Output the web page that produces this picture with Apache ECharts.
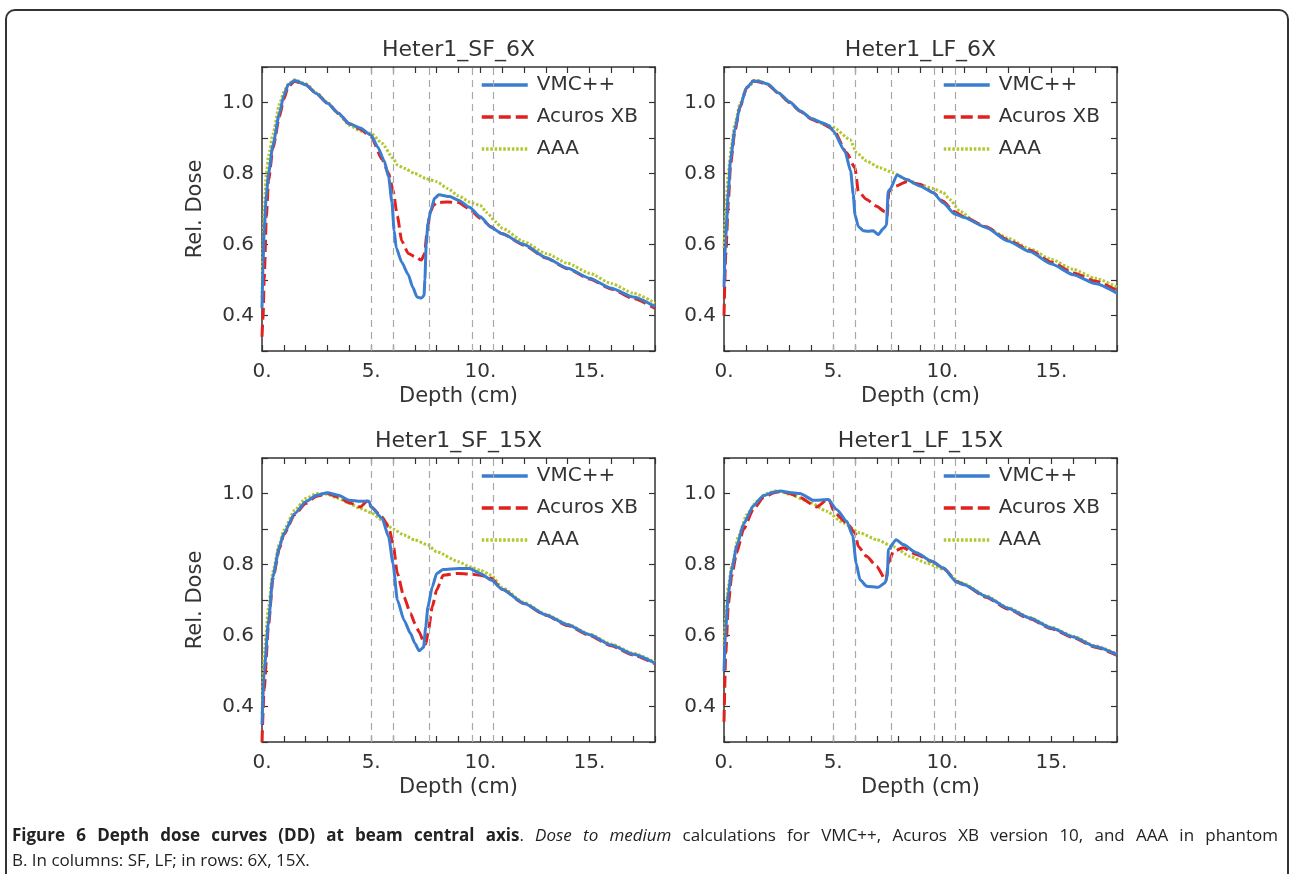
<!DOCTYPE html>
<html>
<head>
<meta charset="utf-8">
<title>Depth dose curves</title>
<script src="https://cdn.jsdelivr.net/npm/echarts@6/dist/echarts.min.js"></script>
<style>
  html, body { margin: 0; padding: 0; background: #fff; }
  #chart { position: absolute; left: 0; top: 0; width: 1290px; height: 874px; }
  #frame { position: absolute; left: 5px; top: 9px; width: 1280px; height: 900px;
           border: 2px solid #333; border-radius: 10px; pointer-events: none; }
  #caption { position: absolute; left: 12px; top: 822px; width: 1266px; color: #222;
             font-family: "Open Sans", sans-serif; font-size: 17px; line-height: 25px; }
  #caption .l1 { text-align: justify; text-align-last: justify; white-space: nowrap; }
</style>
</head>
<body>
<div id="chart"></div>
<div id="frame"></div>
<div id="caption">
  <div class="l1"><b>Figure 6 Depth dose curves (DD) at beam central axis</b>. <i>Dose to medium</i> calculations for VMC++, Acuros XB version 10, and AAA in phantom</div>
  <div>B. In columns: SF, LF; in rows: 6X, 15X.</div>
</div>
<script>
// panel titles, legend names, labelled ticks, interface depths (cm)
const panelTitles = ['Heter1_SF_6X', 'Heter1_LF_6X', 'Heter1_SF_15X', 'Heter1_LF_15X'];
const seriesNames = ['VMC++', 'Acuros XB', 'AAA'];
const xTickLabels = [0, 5, 10, 15];
const yTickLabels = [0.4, 0.6, 0.8, 1.0];
const depthMarks = [5.0, 6.0, 7.65, 9.62, 10.6];

// Heter1_SF_6X  [depth, rel. dose]
const sf6Vmc = [[0,0.42],[0.05,0.55],[0.1,0.64],[0.2,0.74],[0.3,0.8],[0.5,0.88],[0.8,0.97],[1.0,1.02],[1.2,1.05],[1.5,1.062],[2,1.05],[2.5,1.025],[3,0.998],[3.5,0.97],[4,0.94],[4.5,0.928],[5,0.908],[5.3,0.875],[5.6,0.835],[5.8,0.79],[5.95,0.72],[6.05,0.64],[6.15,0.59],[6.4,0.55],[6.7,0.515],[6.9,0.48],[7.1,0.452],[7.3,0.449],[7.42,0.456],[7.46,0.5],[7.52,0.6],[7.6,0.66],[7.75,0.7],[7.9,0.73],[8.1,0.74],[8.6,0.735],[9,0.725],[9.5,0.705],[10,0.678],[10.5,0.648],[11,0.63],[12,0.6],[13,0.563],[14,0.533],[15,0.505],[16,0.477],[17,0.452],[18,0.425]];
const sf6Axb = [[0,0.34],[0.05,0.4],[0.1,0.5],[0.2,0.68],[0.3,0.78],[0.5,0.87],[0.8,0.96],[1.0,1.01],[1.2,1.045],[1.5,1.06],[2,1.05],[2.5,1.025],[3,0.998],[3.5,0.97],[4,0.94],[4.5,0.925],[5,0.903],[5.5,0.84],[5.8,0.8],[6.0,0.753],[6.2,0.68],[6.4,0.61],[6.7,0.575],[7.0,0.566],[7.3,0.556],[7.45,0.575],[7.55,0.63],[7.7,0.69],[7.85,0.71],[8.0,0.718],[8.5,0.72],[9,0.718],[9.5,0.7],[10,0.674],[10.5,0.65],[11,0.63],[12,0.598],[13,0.562],[14,0.532],[15,0.503],[16,0.475],[17,0.448],[18,0.42]];
const sf6Aaa = [[0,0.45],[0.05,0.6],[0.1,0.7],[0.2,0.8],[0.3,0.85],[0.5,0.91],[0.8,0.995],[1.0,1.03],[1.2,1.052],[1.5,1.064],[2,1.053],[2.5,1.027],[3,1.0],[3.5,0.968],[4,0.936],[4.5,0.92],[5,0.913],[5.5,0.885],[6.0,0.843],[6.2,0.824],[6.5,0.815],[7,0.8],[7.5,0.786],[7.7,0.782],[8,0.777],[8.5,0.758],[9,0.737],[9.5,0.72],[10,0.71],[10.3,0.69],[10.7,0.664],[11,0.646],[12,0.608],[13,0.575],[14,0.547],[15,0.519],[16,0.49],[17,0.463],[18,0.435]];

// Heter1_LF_6X
const lf6Vmc = [[0,0.48],[0.08,0.62],[0.2,0.75],[0.3,0.84],[0.5,0.925],[0.73,0.988],[1.04,1.042],[1.34,1.06],[1.6,1.06],[2,1.052],[2.5,1.027],[3,1.002],[3.5,0.976],[4,0.955],[4.5,0.943],[4.8,0.935],[5,0.92],[5.54,0.863],[5.8,0.807],[5.92,0.741],[6.0,0.684],[6.15,0.651],[6.38,0.639],[6.6,0.637],[6.83,0.639],[7.06,0.628],[7.3,0.645],[7.44,0.654],[7.52,0.75],[7.6,0.755],[7.93,0.796],[8.36,0.783],[8.97,0.765],[9.58,0.746],[10.04,0.717],[10.57,0.686],[11,0.676],[12,0.648],[13,0.61],[14,0.58],[15,0.545],[16,0.515],[17,0.49],[18,0.463]];
const lf6Axb = [[0,0.40],[0.08,0.57],[0.2,0.72],[0.3,0.826],[0.5,0.92],[0.73,0.986],[1.04,1.042],[1.34,1.061],[1.6,1.058],[2,1.05],[2.5,1.026],[3,1.0],[3.5,0.975],[4,0.953],[4.5,0.94],[5,0.925],[5.61,0.859],[6.0,0.816],[6.15,0.75],[6.53,0.727],[6.99,0.708],[7.37,0.692],[7.47,0.68],[7.55,0.75],[7.9,0.765],[8.36,0.777],[8.97,0.77],[9.58,0.746],[10.04,0.722],[10.5,0.694],[11,0.678],[12,0.65],[13,0.613],[14,0.584],[15,0.55],[16,0.52],[17,0.497],[18,0.47]];
const lf6Aaa = [[0,0.59],[0.08,0.70],[0.2,0.807],[0.35,0.882],[0.5,0.94],[0.73,0.995],[1.04,1.042],[1.5,1.063],[2,1.052],[2.5,1.027],[3,1.0],[3.5,0.976],[4,0.955],[4.5,0.94],[5,0.93],[5.77,0.896],[6.07,0.859],[6.53,0.835],[7.14,0.816],[7.75,0.802],[8.36,0.783],[8.97,0.769],[9.58,0.758],[10.04,0.746],[10.34,0.727],[10.8,0.694],[11.56,0.661],[12,0.648],[13,0.618],[14,0.588],[15,0.558],[16,0.53],[17,0.505],[18,0.48]];

// Heter1_SF_15X
const sf15Vmc = [[0,0.35],[0.1,0.5],[0.3,0.64],[0.5,0.766],[0.8,0.85],[1,0.888],[1.5,0.944],[2,0.977],[2.5,0.995],[3,1.002],[3.5,0.995],[4,0.981],[4.5,0.978],[4.9,0.978],[5.0,0.962],[5.5,0.93],[5.8,0.878],[6.0,0.803],[6.2,0.7],[6.5,0.644],[6.8,0.606],[7.0,0.578],[7.2,0.557],[7.4,0.567],[7.5,0.625],[7.6,0.681],[7.8,0.737],[8.0,0.775],[8.3,0.786],[9,0.789],[9.5,0.789],[10,0.775],[10.5,0.756],[11,0.73],[12,0.69],[13,0.658],[14,0.63],[15,0.602],[16,0.573],[17,0.547],[18,0.522]];
const sf15Axb = [[0,0.3],[0.1,0.45],[0.3,0.63],[0.5,0.76],[0.8,0.845],[1,0.885],[1.5,0.94],[2,0.972],[2.5,0.992],[3,1.0],[3.5,0.99],[4,0.974],[4.5,0.962],[4.85,0.98],[5.0,0.962],[5.5,0.934],[5.8,0.906],[6.0,0.86],[6.2,0.775],[6.5,0.709],[6.8,0.663],[7.0,0.634],[7.2,0.61],[7.4,0.583],[7.5,0.576],[7.6,0.606],[7.8,0.681],[8.0,0.728],[8.3,0.77],[9,0.775],[9.5,0.773],[10,0.77],[10.5,0.761],[11,0.73],[12,0.69],[13,0.657],[14,0.628],[15,0.6],[16,0.571],[17,0.545],[18,0.52]];
const sf15Aaa = [[0,0.38],[0.1,0.55],[0.3,0.68],[0.5,0.78],[0.8,0.86],[1,0.897],[1.5,0.953],[2,0.986],[2.5,1.0],[3,0.998],[3.5,0.986],[4,0.972],[4.5,0.958],[5,0.946],[5.5,0.925],[6,0.9],[6.5,0.883],[7,0.869],[7.6,0.855],[8,0.836],[9,0.808],[9.5,0.794],[10,0.784],[10.5,0.77],[11,0.735],[12,0.693],[13,0.66],[14,0.632],[15,0.604],[16,0.576],[17,0.55],[18,0.525]];

// Heter1_LF_15X
const lf15Vmc = [[0,0.5],[0.08,0.62],[0.2,0.72],[0.35,0.785],[0.6,0.855],[0.9,0.915],[1.34,0.965],[1.8,0.994],[2.3,1.004],[2.6,1.007],[3,1.003],[3.48,1.0],[4.09,0.981],[4.78,0.983],[5.16,0.955],[5.62,0.922],[5.9,0.88],[6.05,0.804],[6.23,0.757],[6.53,0.739],[7.07,0.736],[7.37,0.748],[7.48,0.767],[7.53,0.842],[7.88,0.87],[8.21,0.856],[8.82,0.833],[9.51,0.809],[10.05,0.79],[10.66,0.75],[11,0.743],[12,0.71],[13,0.677],[14,0.649],[15,0.621],[16,0.596],[17,0.569],[18,0.546]];
const lf15Axb = [[0,0.357],[0.08,0.55],[0.2,0.69],[0.35,0.767],[0.58,0.833],[0.9,0.9],[1.34,0.955],[1.8,0.988],[2.3,1.002],[2.6,1.006],[3,1.0],[3.5,0.988],[4.24,0.962],[4.78,0.985],[5.08,0.945],[5.62,0.917],[6.0,0.889],[6.15,0.851],[6.53,0.823],[6.99,0.795],[7.42,0.755],[7.53,0.804],[7.76,0.837],[8.21,0.847],[8.82,0.828],[9.51,0.809],[10.05,0.79],[10.66,0.752],[11,0.743],[12,0.708],[13,0.675],[14,0.647],[15,0.619],[16,0.594],[17,0.567],[18,0.544]];
const lf15Aaa = [[0,0.57],[0.08,0.654],[0.2,0.74],[0.35,0.795],[0.66,0.88],[1.04,0.94],[1.5,0.978],[1.95,1.0],[2.4,1.008],[3,0.998],[3.94,0.975],[4.7,0.95],[5.47,0.917],[6.23,0.889],[6.99,0.87],[7.76,0.85],[8.52,0.823],[9.28,0.804],[10.05,0.786],[10.81,0.75],[11,0.745],[12,0.712],[13,0.679],[14,0.651],[15,0.623],[16,0.598],[17,0.571],[18,0.548]];

const panelData = [
    [sf6Vmc, sf6Axb, sf6Aaa],
    [lf6Vmc, lf6Axb, lf6Aaa],
    [sf15Vmc, sf15Axb, sf15Aaa],
    [lf15Vmc, lf15Axb, lf15Aaa]
];

const font = 'DejaVu Sans';
const ink = '#333';
const colors = ['#3b7dd0', '#e0211d', '#b4c72e'];
const dashes = ['solid', [12, 5], [2.5, 1.8]];

const grids = [
    { left: 262, top: 67, width: 393, height: 284 },
    { left: 724, top: 67, width: 393, height: 284 },
    { left: 262, top: 458, width: 393, height: 284 },
    { left: 724, top: 458, width: 393, height: 284 }
];

let chart = echarts.init(document.getElementById('chart'));

let xAxes = [];
let yAxes = [];
let series = [];

grids.forEach(function (g, i) {
    let tick = { show: true, inside: true, length: 6, lineStyle: { color: ink, width: 1.2 } };
    let line = { show: true, onZero: false, lineStyle: { color: ink, width: 1.5 } };
    // bottom + top
    xAxes.push({
        gridIndex: i, type: 'value', min: 0, max: 18, interval: 1,
        axisLine: line, axisTick: tick, splitLine: { show: false },
        axisLabel: {
            margin: 11, fontSize: 20, color: ink, fontFamily: font,
            formatter: function (v) { return xTickLabels.indexOf(v) >= 0 ? v + '.' : ''; }
        },
        name: 'Depth (cm)', nameLocation: 'middle', nameGap: 35,
        nameTextStyle: { fontSize: 21, color: ink, fontFamily: font }
    });
    xAxes.push({
        gridIndex: i, type: 'value', position: 'top', min: 0, max: 18, interval: 1,
        axisLine: line, axisTick: tick, splitLine: { show: false }, axisLabel: { show: false }
    });
    // left + right
    yAxes.push({
        gridIndex: i, type: 'value', min: 0.3, max: 1.1, interval: 0.1,
        axisLine: line, axisTick: tick, splitLine: { show: false },
        axisLabel: {
            margin: 8, fontSize: 20, color: ink, fontFamily: font,
            formatter: function (v) {
                let hit = yTickLabels.find(function (t) { return Math.abs(t - v) < 1e-6; });
                return hit !== undefined ? hit.toFixed(1) : '';
            }
        },
        name: i % 2 === 0 ? 'Rel. Dose' : '', nameLocation: 'middle', nameGap: 56,
        nameTextStyle: { fontSize: 21, color: ink, fontFamily: font }
    });
    yAxes.push({
        gridIndex: i, type: 'value', position: 'right', min: 0.3, max: 1.1, interval: 0.1,
        axisLine: line, axisTick: tick, splitLine: { show: false }, axisLabel: { show: false }
    });

    panelData[i].forEach(function (pts, k) {
        let s = {
            name: seriesNames[k],
            type: 'line',
            xAxisIndex: i * 2,
            yAxisIndex: i * 2,
            data: pts,
            showSymbol: false,
            symbol: 'none',
            smooth: 0.2,
            smoothMonotone: 'x',
            z: 5 - k,
            lineStyle: { color: colors[k], width: 3, type: dashes[k] },
            itemStyle: { color: colors[k], opacity: 0 }
        };
        if (k === 0) {
            s.markLine = {
                silent: true,
                symbol: ['none', 'none'],
                label: { show: false },
                lineStyle: { color: '#aaa', type: [7, 5], width: 1.2, opacity: 1 },
                data: depthMarks.map(function (d) { return { xAxis: d }; })
            };
        }
        series.push(s);
    });
});

const option = {
    animation: false,
    backgroundColor: '#fff',
    title: grids.map(function (g, i) {
        return {
            text: panelTitles[i],
            left: g.left + g.width / 2,
            top: g.top - 28,
            textAlign: 'center',
            padding: 0,
            textStyle: { fontSize: 22, fontWeight: 'normal', color: ink, fontFamily: font }
        };
    }),
    legend: grids.map(function (g) {
        return {
            data: seriesNames,
            orient: 'vertical',
            left: g.left + 218,
            top: g.top + 8,
            padding: 0,
            itemWidth: 46,
            itemHeight: 14,
            itemGap: 12,
            selectedMode: false,
            itemStyle: { opacity: 0 },
            lineStyle: { opacity: 1, width: 3.5 },
            textStyle: { fontSize: 20, lineHeight: 20, color: ink, fontFamily: font, padding: [0, 0, 0, 4] }
        };
    }),
    grid: grids,
    xAxis: xAxes,
    yAxis: yAxes,
    series: series
};

chart.setOption(option);

window.addEventListener('resize', function () {
    chart.resize();
});
</script>
</body>
</html>
